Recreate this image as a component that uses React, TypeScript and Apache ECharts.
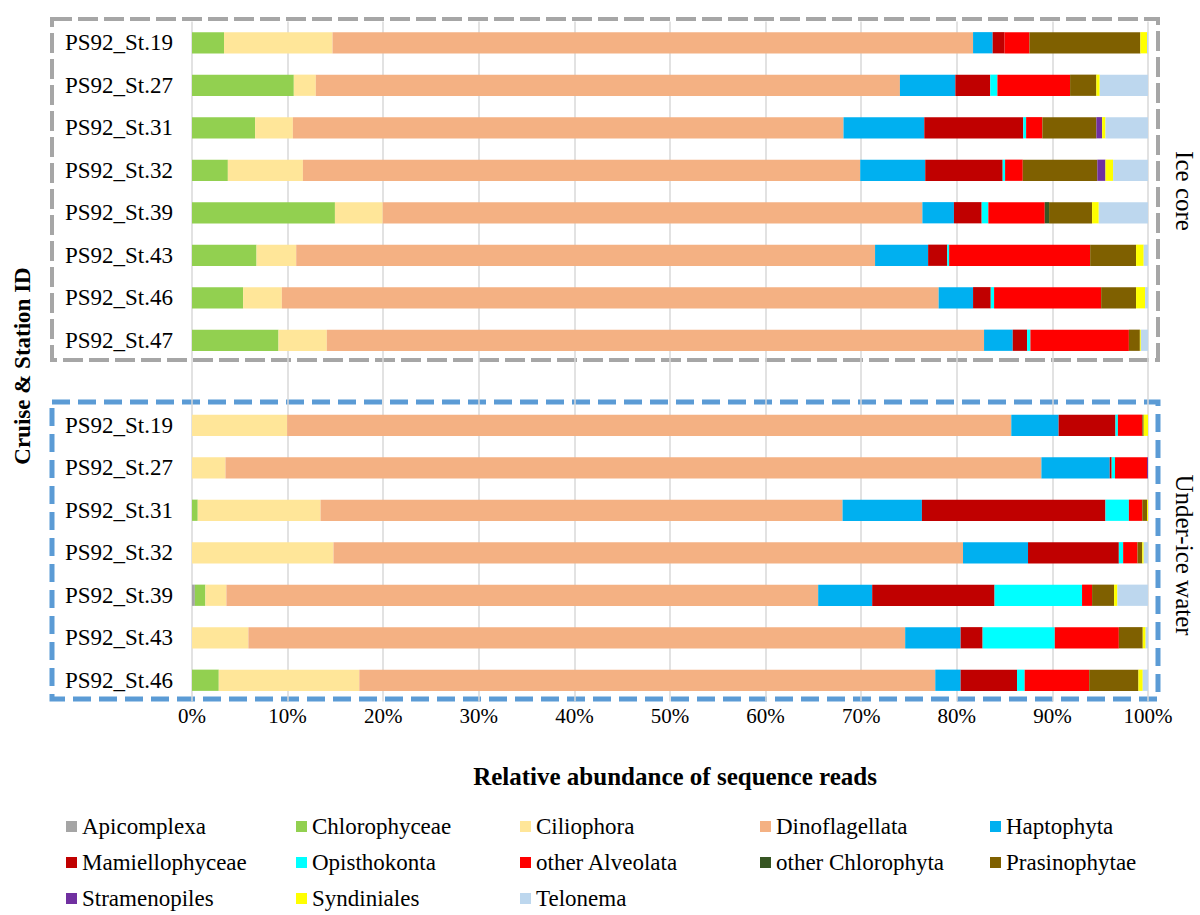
import React, { useEffect, useRef } from "react";
import * as echarts from "echarts";

// Stations (ice core first, then under-ice water)
const iceStations = ["PS92_St.19", "PS92_St.27", "PS92_St.31", "PS92_St.32", "PS92_St.39", "PS92_St.43", "PS92_St.46", "PS92_St.47"];
const waterStations = ["PS92_St.19", "PS92_St.27", "PS92_St.31", "PS92_St.32", "PS92_St.39", "PS92_St.43", "PS92_St.46"];

const xTicks = [0, 10, 20, 30, 40, 50, 60, 70, 80, 90, 100];

// Values in %: 8 ice-core stations followed by 7 under-ice water stations
const apicomplexa = [0, 0, 0, 0, 0, 0, 0, 0, 0, 0, 0, 0, 0.3, 0, 0];
const chlorophyceae = [3.35, 10.65, 6.6, 3.75, 14.95, 6.75, 5.35, 9.05, 0, 0, 0.6, 0, 1.1, 0, 2.8];
const ciliophora = [11.35, 2.3, 3.95, 7.85, 5.0, 4.15, 4.05, 5.05, 9.95, 3.5, 12.85, 14.8, 2.2, 5.9, 14.7];
const dinoflagellata = [67.0, 61.1, 57.6, 58.3, 56.45, 60.55, 68.7, 68.75, 75.75, 85.35, 54.6, 65.85, 61.9, 68.7, 60.25];
const haptophyta = [2.05, 5.8, 8.45, 6.8, 3.3, 5.55, 3.6, 3.0, 4.95, 7.15, 8.3, 6.8, 5.65, 5.8, 2.65];
const mamiellophyceae = [1.25, 3.65, 10.35, 8.1, 2.9, 2.0, 1.85, 1.5, 5.95, 0.2, 19.2, 9.5, 12.8, 2.3, 5.9];
const opisthokonta = [0, 0.75, 0.3, 0.25, 0.7, 0.2, 0.35, 0.35, 0.25, 0.35, 2.45, 0.45, 9.15, 7.55, 0.8];
const otherAlveolata = [2.6, 7.6, 1.7, 1.85, 5.9, 14.75, 11.2, 10.3, 2.55, 3.35, 1.4, 1.5, 1.05, 6.7, 6.75];
const otherChlorophyta = [0, 0, 0, 0, 0.45, 0, 0, 0, 0, 0, 0, 0, 0, 0, 0];
const prasinophytae = [11.6, 2.75, 5.65, 7.8, 4.5, 4.8, 3.65, 1.15, 0.15, 0, 0.5, 0.5, 2.3, 2.5, 5.15];
const stramenopiles = [0, 0, 0.6, 0.85, 0, 0, 0, 0, 0, 0.1, 0, 0, 0, 0, 0];
const syndiniales = [0.7, 0.35, 0.35, 0.8, 0.7, 0.8, 0.95, 0.1, 0.45, 0, 0.1, 0.15, 0.35, 0.3, 0.45];
const telonema = [0.1, 5.05, 4.45, 3.65, 5.15, 0.45, 0.3, 0.75, 0, 0, 0, 0.45, 3.2, 0.25, 0.55];

const taxa = [
  { name: "Apicomplexa", color: "#A5A5A5", values: apicomplexa },
  { name: "Chlorophyceae", color: "#92D050", values: chlorophyceae },
  { name: "Ciliophora", color: "#FFE699", values: ciliophora },
  { name: "Dinoflagellata", color: "#F4B183", values: dinoflagellata },
  { name: "Haptophyta", color: "#00B0F0", values: haptophyta },
  { name: "Mamiellophyceae", color: "#C00000", values: mamiellophyceae },
  { name: "Opisthokonta", color: "#00FFFF", values: opisthokonta },
  { name: "other Alveolata", color: "#FF0000", values: otherAlveolata },
  { name: "other Chlorophyta", color: "#375623", values: otherChlorophyta },
  { name: "Prasinophytae", color: "#7F6000", values: prasinophytae },
  { name: "Stramenopiles", color: "#7030A0", values: stramenopiles },
  { name: "Syndiniales", color: "#FFFF00", values: syndiniales },
  { name: "Telonema", color: "#BDD7EE", values: telonema },
];

const FONT = "'Liberation Serif', 'Times New Roman', serif";

export default function App() {
  const ref = useRef<HTMLDivElement>(null);

  useEffect(() => {
    if (!ref.current) return;
    const chart = echarts.init(ref.current, undefined, { renderer: "svg" });

    const nIce = iceStations.length;
    const categories = [
      ...iceStations.map((s, i) => `ice${i}|${s}`),
      "gap|",
      ...waterStations.map((s, i) => `water${i}|${s}`),
    ];

    const series = taxa.map((t) => ({
      name: t.name,
      type: "bar",
      stack: "total",
      barWidth: "50%",
      itemStyle: { color: t.color },
      emphasis: { disabled: true },
      data: [...t.values.slice(0, nIce), "-", ...t.values.slice(nIce)],
    }));

    const legendCols = [
      { left: 66, names: ["Apicomplexa", "Mamiellophyceae", "Stramenopiles"] },
      { left: 296, names: ["Chlorophyceae", "Opisthokonta", "Syndiniales"] },
      { left: 520, names: ["Ciliophora", "other Alveolata", "Telonema"] },
      { left: 760, names: ["Dinoflagellata", "other Chlorophyta"] },
      { left: 990, names: ["Haptophyta", "Prasinophytae"] },
    ];

    chart.setOption({
      animation: false,
      textStyle: { fontFamily: FONT },
      grid: { left: 192, right: 52, top: 21.5, height: 680, containLabel: false },
      xAxis: {
        type: "value",
        min: 0,
        max: 100,
        interval: 10,
        axisLine: { show: false },
        axisTick: { show: false },
        splitLine: { show: true, lineStyle: { color: "#D9D9D9", width: 1.5 } },
        axisLabel: {
          formatter: (v: number) => (xTicks.includes(v) ? `${v}%` : ""),
          color: "#000",
          fontFamily: FONT,
          fontSize: 21,
          margin: 4,
        },
      },
      yAxis: {
        type: "category",
        inverse: true,
        data: categories,
        axisLine: { show: false },
        axisTick: { show: false },
        axisLabel: {
          formatter: (v: string) => v.split("|")[1],
          color: "#000",
          fontFamily: FONT,
          fontSize: 23,
          margin: 19,
        },
      },
      legend: legendCols.map((c) => ({
        orient: "vertical",
        left: c.left,
        top: 815,
        data: c.names,
        icon: "rect",
        itemWidth: 11,
        itemHeight: 11,
        itemGap: 13,
        selectedMode: false,
        padding: 0,
        textStyle: { color: "#000", fontFamily: FONT, fontSize: 23, lineHeight: 23 },
      })),
      graphic: [
        {
          type: "rect",
          shape: { x: 52, y: 19, width: 1106, height: 341 },
          style: { fill: "none", stroke: "#A6A6A6", lineWidth: 4, lineDash: [20, 6] },
          silent: true,
        },
        {
          type: "rect",
          shape: { x: 52, y: 402, width: 1106, height: 297 },
          style: { fill: "none", stroke: "#5B9BD5", lineWidth: 5, lineDash: [18, 8] },
          silent: true,
        },
        {
          type: "text",
          x: 675,
          y: 776,
          style: {
            text: "Relative abundance of sequence reads",
            font: `bold 25px ${FONT}`,
            fill: "#000",
            textAlign: "center",
            textVerticalAlign: "middle",
          },
        },
        {
          type: "text",
          x: 22,
          y: 366,
          rotation: Math.PI / 2,
          style: {
            text: "Cruise & Station ID",
            font: `bold 23px ${FONT}`,
            fill: "#000",
            textAlign: "center",
            textVerticalAlign: "middle",
          },
        },
        {
          type: "text",
          x: 1184,
          y: 191,
          rotation: -Math.PI / 2,
          style: {
            text: "Ice core",
            font: `25px ${FONT}`,
            fill: "#000",
            textAlign: "center",
            textVerticalAlign: "middle",
          },
        },
        {
          type: "text",
          x: 1184,
          y: 555,
          rotation: -Math.PI / 2,
          style: {
            text: "Under-ice water",
            font: `25px ${FONT}`,
            fill: "#000",
            textAlign: "center",
            textVerticalAlign: "middle",
          },
        },
      ],
      series,
    });

    return () => chart.dispose();
  }, []);

  return (
    <div
      ref={ref}
      style={{ position: "absolute", left: 0, top: 0, width: 1200, height: 915, background: "#fff" }}
    />
  );
}
